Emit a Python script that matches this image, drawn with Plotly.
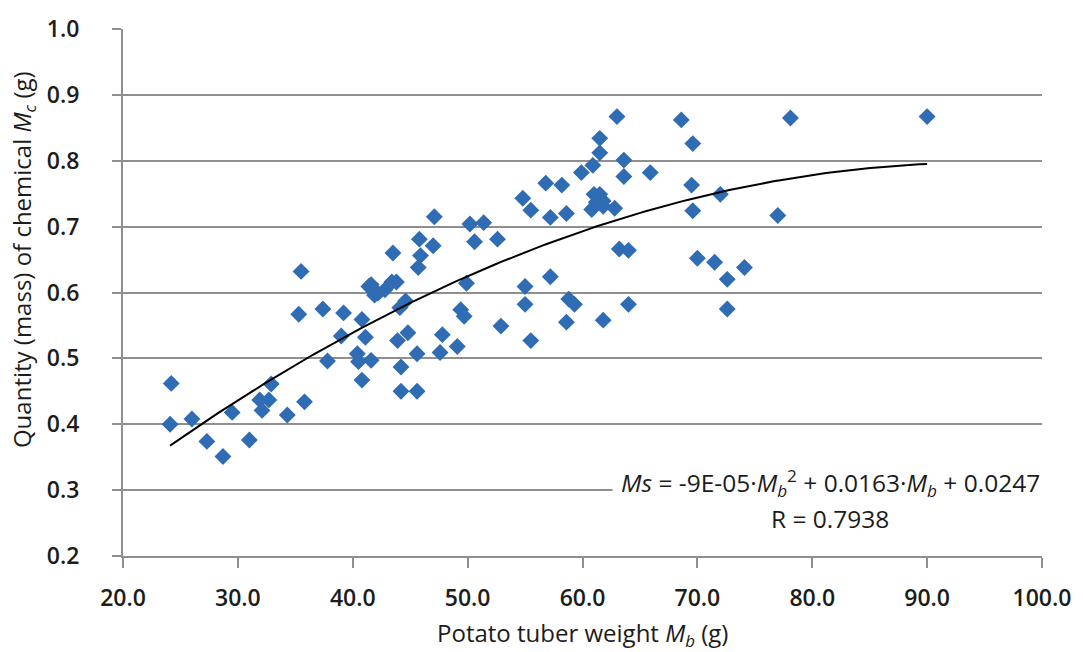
import numpy as np
import plotly.graph_objects as go

# Tuber weight (g) and chemical mass (g) for each sampled potato
tuber_weight = [
    24.2, 24.1, 26.0, 27.3, 28.7, 29.5, 31.0, 31.9, 32.7, 32.1,
    32.9, 34.3, 35.8, 35.5, 35.3, 37.4, 37.8, 39.0, 39.2, 40.4,
    40.5, 40.8, 40.8, 41.1, 41.6, 41.4, 41.6, 41.9, 42.2, 42.8,
    43.4, 43.8, 43.5, 43.9, 44.1, 44.2, 44.2, 44.6, 44.8, 45.6,
    45.6, 45.8, 45.9, 45.7, 47.0, 47.1, 47.6, 47.8, 49.1, 49.4,
    49.7, 49.9, 50.2, 50.6, 51.4, 52.6, 52.9, 54.8, 55.0, 55.0,
    55.5, 55.5, 56.8, 57.2, 57.2, 58.2, 58.6, 58.6, 58.8, 59.3,
    59.9, 60.9, 60.8, 61.0, 61.5, 61.2, 61.8, 61.8, 61.5, 61.5,
    61.8, 62.8, 63.0, 63.6, 63.6, 63.2, 64.0, 64.0, 65.9, 68.6,
    69.6, 69.5, 69.6, 70.0, 71.5, 72.0, 72.6, 72.6, 74.1, 77.0,
    78.1, 90.0,
]
chemical_mass = [
    0.462, 0.400, 0.408, 0.374, 0.351, 0.418, 0.376, 0.437, 0.437, 0.421,
    0.461, 0.414, 0.434, 0.632, 0.567, 0.575, 0.496, 0.534, 0.569, 0.507,
    0.495, 0.467, 0.559, 0.532, 0.497, 0.609, 0.612, 0.596, 0.599, 0.604,
    0.616, 0.616, 0.660, 0.527, 0.577, 0.487, 0.450, 0.587, 0.539, 0.507,
    0.450, 0.681, 0.656, 0.638, 0.671, 0.715, 0.509, 0.536, 0.518, 0.574,
    0.564, 0.614, 0.704, 0.677, 0.706, 0.681, 0.549, 0.743, 0.609, 0.582,
    0.725, 0.527, 0.766, 0.714, 0.624, 0.763, 0.720, 0.555, 0.590, 0.582,
    0.782, 0.793, 0.726, 0.749, 0.749, 0.737, 0.739, 0.731, 0.834, 0.812,
    0.558, 0.728, 0.867, 0.801, 0.776, 0.666, 0.664, 0.582, 0.782, 0.862,
    0.826, 0.763, 0.724, 0.652, 0.646, 0.749, 0.620, 0.575, 0.638, 0.717,
    0.865, 0.867,
]

# Quadratic trend: Ms = a*Mb^2 + b*Mb + c
trend_coeffs = [-8.6e-5, 0.0163, 0.0247]
correlation_r = 0.7938

x_ticks = [20, 30, 40, 50, 60, 70, 80, 90, 100]
y_ticks = [0.2, 0.3, 0.4, 0.5, 0.6, 0.7, 0.8, 0.9, 1.0]

marker_blue = "#2f6cb3"
grid_grey = "#8f8f8f"
text_color = "#1c1c1c"
font_family = "Open Sans"

a, b, c = trend_coeffs
trend_x = np.linspace(min(tuber_weight), max(tuber_weight), 200)
trend_y = np.polyval(trend_coeffs, trend_x)

fig = go.Figure()
fig.add_trace(go.Scatter(
    x=tuber_weight, y=chemical_mass, mode="markers",
    marker=dict(symbol="diamond", size=13, color=marker_blue, line=dict(width=0)),
    showlegend=False,
))
fig.add_trace(go.Scatter(
    x=trend_x, y=trend_y, mode="lines",
    line=dict(color="black", width=2),
    showlegend=False,
))

tick_font = dict(family=font_family, size=23, color=text_color, weight=600)

fig.update_xaxes(
    range=[20, 100], tickvals=x_ticks, tickformat=".1f",
    showgrid=False, zeroline=False,
    showline=True, linecolor=grid_grey, linewidth=2,
    ticks="outside", ticklen=10, tickwidth=2, tickcolor=grid_grey,
    tickfont=tick_font, ticklabelstandoff=10,
)
fig.update_yaxes(
    range=[0.2, 1.0], tickvals=y_ticks, tickformat=".1f",
    showgrid=True, gridcolor=grid_grey, gridwidth=2, zeroline=False,
    showline=True, linecolor=grid_grey, linewidth=2,
    ticks="outside", ticklen=9, tickwidth=2, tickcolor=grid_grey,
    tickfont=tick_font, ticklabelstandoff=28,
)

# Trend-line equation and correlation, on a white box over the grid
equation = (
    f"<i>Ms</i> = {a:.0E}·<i>M<sub>b</sub></i><sup>2</sup> + {b:.4f}·<i>M<sub>b</sub></i>"
    f" + {c:.4f}"
)
r_text = f"R = {correlation_r:.4f}"
eq_font = dict(family=font_family, size=24.5, color=text_color)

fig.add_annotation(
    text=equation, xref="paper", yref="paper", x=0.7695, y=0.138,
    xanchor="center", yanchor="middle", showarrow=False,
    bgcolor="white", borderpad=8, font=eq_font,
)
fig.add_annotation(
    text=r_text, xref="paper", yref="paper", x=0.7695, y=0.071,
    xanchor="center", yanchor="middle", showarrow=False,
    bgcolor="white", borderpad=2, font=eq_font,
)

title_font = dict(family=font_family, size=24, color=text_color)
fig.add_annotation(
    text="Potato tuber weight <i>M<sub>b</sub></i> (g)",
    xref="paper", yref="paper", x=0.5, y=-0.148,
    xanchor="center", yanchor="middle", showarrow=False, font=title_font,
)
fig.add_annotation(
    text="Quantity (mass) of chemical <i>M<sub>c</sub></i> (g)",
    xref="paper", yref="paper", x=-0.108, y=0.563, textangle=-90,
    xanchor="center", yanchor="middle", showarrow=False, font=title_font,
)

fig.update_layout(
    width=1083, height=652,
    margin=dict(l=123, r=34, t=21, b=96),
    paper_bgcolor="white", plot_bgcolor="white",
)

fig.write_html("out.html")
